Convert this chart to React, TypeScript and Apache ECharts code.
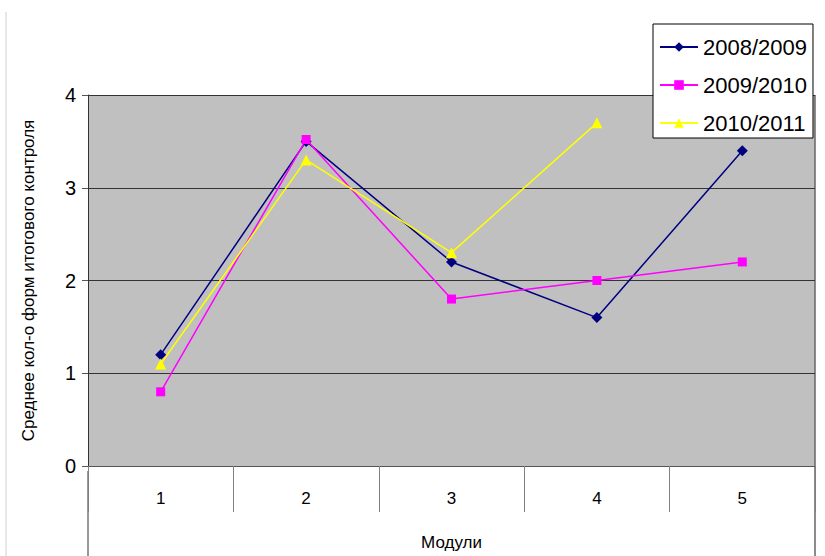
import React, { useEffect, useRef } from "react";
import * as echarts from "echarts";

const categories = ["1", "2", "3", "4", "5"];
const seriesNames = ["2008/2009", "2009/2010", "2010/2011"];
const values2008: (number | null)[] = [1.2, 3.5, 2.2, 1.6, 3.4];
const values2009: (number | null)[] = [0.8, 3.52, 1.8, 2.0, 2.2];
const values2010: (number | null)[] = [1.1, 3.3, 2.3, 3.7, null];
const yMin = 0;
const yMax = 4;
const yInterval = 1;

const FONT = "Liberation Sans, Arial, sans-serif";

export default function App() {
  const ref = useRef<HTMLDivElement>(null);
  useEffect(() => {
    if (!ref.current) return;
    const chart = echarts.init(ref.current, undefined, { renderer: "svg" });
    const H = 556;
    const mk = (name: string, data: (number | null)[], color: string, symbol: string, size: number) => ({
      name,
      type: "line",
      data,
      symbol,
      symbolSize: size,
      showSymbol: true,
      connectNulls: false,
      lineStyle: { color, width: 1.5 },
      itemStyle: { color },
    });
    chart.setOption({
      animation: false,
      backgroundColor: "#ffffff",
      textStyle: { fontFamily: FONT },
      grid: {
        left: 88,
        right: 10,
        top: 95,
        bottom: H - 471,
        show: true,
        backgroundColor: "#c0c0c0",
        borderWidth: 0,
      },
      legend: {
        orient: "vertical",
        left: 653,
        top: 24,
        backgroundColor: "#ffffff",
        borderColor: "#000000",
        borderWidth: 1,
        padding: [12, 6, 4, 6],
        itemWidth: 38,
        itemHeight: 12,
        itemGap: 16,
        textStyle: { fontSize: 22, color: "#000000", fontFamily: FONT },
        data: seriesNames,
      },
      xAxis: {
        type: "category",
        data: categories,
        boundaryGap: true,
        name: "Модули",
        nameLocation: "middle",
        nameGap: 68,
        nameTextStyle: { fontSize: 17, color: "#000000", fontFamily: FONT },
        axisLine: { show: true, lineStyle: { color: "#555555", width: 1 } },
        axisTick: { show: true, interval: 0, length: 46, lineStyle: { color: "#808080", width: 1 } },
        axisLabel: { fontSize: 17, color: "#000000", margin: 24, fontFamily: FONT },
        splitLine: { show: false },
      },
      yAxis: {
        type: "value",
        min: yMin,
        max: yMax,
        interval: yInterval,
        name: "Среднее кол-о форм итогового контроля",
        nameLocation: "middle",
        nameGap: 51,
        nameRotate: 90,
        nameTextStyle: { fontSize: 17, color: "#000000", fontFamily: FONT },
        axisLine: { show: true, lineStyle: { color: "#333333", width: 1 } },
        axisTick: { show: true, length: 6, lineStyle: { color: "#555555" } },
        axisLabel: { fontSize: 20, color: "#000000", margin: 12, fontFamily: FONT },
        splitLine: { show: true, lineStyle: { color: "#333333", width: 1 } },
      },
      graphic: [
        { type: "line", shape: { x1: 88, y1: 471, x2: 88, y2: H }, style: { stroke: "#333333", lineWidth: 1 } },
        { type: "line", shape: { x1: 815, y1: 95, x2: 815, y2: H }, style: { stroke: "#666666", lineWidth: 1.5 } },
        { type: "line", shape: { x1: 6, y1: 12, x2: 6, y2: H }, style: { stroke: "#d0d0d0", lineWidth: 1 } },
      ],
      series: [
        mk(seriesNames[0], values2008, "#000080", "diamond", 11),
        mk(seriesNames[1], values2009, "#ff00ff", "rect", 9),
        mk(seriesNames[2], values2010, "#ffff00", "triangle", 11),
      ],
    });
    return () => chart.dispose();
  }, []);
  return <div ref={ref} style={{ width: 825, height: 556, position: "fixed", left: 0, top: 0 }} />;
}
